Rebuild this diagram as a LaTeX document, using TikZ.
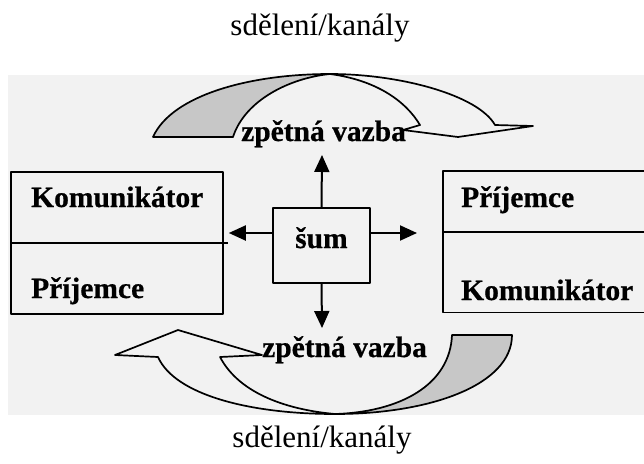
\documentclass[tikz,border=0pt]{standalone}
\usepackage{fontspec}
\setmainfont{Liberation Serif}
\newfontfamily\heavyfont[FakeBold=0.6]{Liberation Serif Bold}
\usetikzlibrary{arrows.meta}
\begin{document}
\begin{tikzpicture}[x=1pt,y=-1pt, line join=round,
  box/.style={draw=black, line width=1.8pt, inner sep=0pt},
  lbl/.style={font=\fontsize{29.5}{29.5}\heavyfont, inner sep=0pt, anchor=base west},
  ttl/.style={font=\fontsize{31}{31}\selectfont, inner sep=0pt, anchor=base},
  arr/.style={-{Triangle[length=17pt,width=15pt]}, line width=2pt},
  band/.style={draw=black, line width=1.7pt},
  shade/.style={fill=black!22}]
\useasboundingbox (0,0) rectangle (644,463);
\fill[black!5] (8,75) rectangle (644,415);
% titles
\node[ttl] (t1) at (320,35) {sdělení/kanály};
\node[ttl] (t2) at (322,447) {sdělení/kanály};
% left box
\node[box, minimum width=212pt, minimum height=142pt, anchor=north west] (L) at (10,171) {};
\draw[line width=1.8pt] (L.west |- 0,243) -- ([xshift=4pt]L.east |- 0,243);
\node[lbl] (lk) at (31,207) {Komunikátor};
\node[lbl] (lp) at (31,298) {Příjemce};
% right box (open to the right)
\node[inner sep=0pt, minimum width=210pt, minimum height=141pt, anchor=north west] (R) at (443,171) {};
\draw[line width=1.8pt] (R.north east) -- (R.north west) -- (R.south west) -- (R.south east);
\draw[line width=1.8pt] (R.west |- 0,232) -- (R.east |- 0,232);
\node[lbl] (rp) at (461,207) {Příjemce};
\node[lbl] (rk) at (461,300) {Komunikátor};
% noise box
\node[box, minimum width=97pt, minimum height=75pt] (S) at (321.5,245.5) {};
\node[lbl] (st) at (295,248) {šum};
% arrows
\coordinate (upT) at (322,155);
\coordinate (dnT) at (322,328);
\coordinate (rtT) at (417,233);
\draw[arr] (S.north) -- (upT);
\draw[arr] (S.south) -- (dnT);
\draw[arr] (S.west |- 0,233) -- ([xshift=5pt]L.east |- 0,233);
\draw[arr] (S.east |- 0,233) -- (rtT);
% top curved arrow
\coordinate (T) at (330,74);
\filldraw[band, shade] (153,137) .. controls (172,95) and (250,74) .. (T)
   .. controls (290,78) and (245,100) .. (233,137) -- cycle;
\draw[band] (T) .. controls (400,74) and (478,95) .. (495,125)
   -- (533,126) -- (458,137) -- (403,130) -- (420,125)
   .. controls (405,100) and (375,80) .. (T);
\node[lbl] (fbt) at (241,141) {zpětná vazba};
% bottom curved arrow
\coordinate (B) at (335,414);
\filldraw[band, shade] (512,335) .. controls (512,385) and (430,414) .. (B)
   .. controls (400,412) and (450,385) .. (452,335) -- cycle;
\draw[band] (B) .. controls (250,414) and (175,395) .. (158,357)
   -- (115,355) -- (178,330) -- (262,355) -- (220,357)
   .. controls (240,395) and (290,410) .. (B);
\node[lbl] (fbb) at (262,357) {zpětná vazba};
\end{tikzpicture}
\end{document}
